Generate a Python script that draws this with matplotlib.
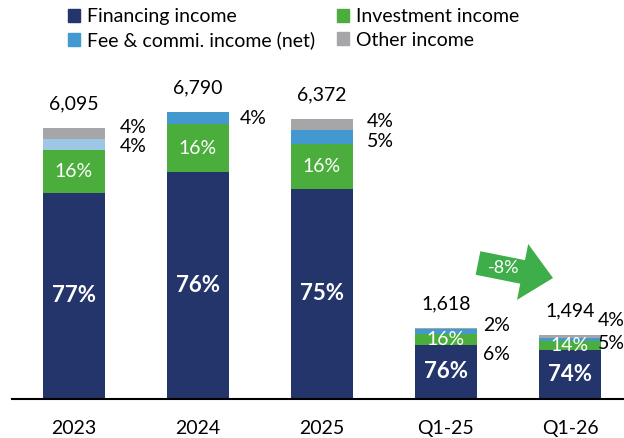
"""Revenue mix stacked bars: annual and Q1 totals with segment shares."""

import matplotlib.pyplot as plt
from matplotlib.patches import FancyArrow, Patch

plt.rcParams["font.family"] = ["Lato", "DejaVu Sans"]

# data
CATEGORIES = ["2023", "2024", "2025", "Q1-25", "Q1-26"]
TOTALS = [6095, 6790, 6372, 1618, 1494]
FINANCING_PCT = [77, 76, 75, 76, 74]
INVESTMENT_PCT = [16, 16, 16, 16, 14]
FEE_PCT = [4, 4, 5, 6, 5]
OTHER_PCT = [4, 0, 4, 2, 4]
CHANGE_LABEL = "-8%"

SERIES_NAMES = ["Financing income", "Investment income", "Fee & commi. income (net)", "Other income"]

NAVY = "#24356B"
GREEN = "#4BAE3C"
BLUE = "#4398CF"
LIGHT_BLUE = "#9DC8E5"
GREY = "#A6A6A9"
ARROW_GREEN = "#3DAE49"

# 2023 fee segment is drawn in a paler blue in the source deck
FEE_COLORS = [LIGHT_BLUE, BLUE, BLUE, BLUE, BLUE]

# hand placement of the outside labels (pixels): x gap from bar edge, y from bar top
SIDE_DX = [15, 11, 14, 6, -3]
UPPER_DY = [-1, 6, 3, -2, -15]
LOWER_DY = [18, 0, 23, 27, 8]

BAR_WIDTH = 0.5
PX_PER_UNIT = 0.044
FS = 14

fig = plt.figure(figsize=(6.24, 4.38), dpi=100)
ax = fig.add_axes([12 / 624, 39 / 438, 612 / 624, 359 / 438])

x = list(range(len(CATEGORIES)))
fin = [t * p / 100 for t, p in zip(TOTALS, FINANCING_PCT)]
inv = [t * p / 100 for t, p in zip(TOTALS, INVESTMENT_PCT)]
fee = [t * p / 100 for t, p in zip(TOTALS, FEE_PCT)]
oth = [t * p / 100 for t, p in zip(TOTALS, OTHER_PCT)]

b1 = list(fin)
b2 = [a + b for a, b in zip(b1, inv)]
b3 = [a + b for a, b in zip(b2, fee)]
tops = [a + b for a, b in zip(b3, oth)]

ax.bar(x, fin, BAR_WIDTH, color=NAVY)
ax.bar(x, inv, BAR_WIDTH, bottom=b1, color=GREEN)
ax.bar(x, fee, BAR_WIDTH, bottom=b2, color=FEE_COLORS)
ax.bar(x, oth, BAR_WIDTH, bottom=b3, color=GREY)

for i in x:
    ax.text(i, fin[i] / 2, f"{FINANCING_PCT[i]}%", ha="center", va="center",
            color="white", fontsize=16, fontweight="bold")
    ax.text(i, b1[i] + inv[i] / 2, f"{INVESTMENT_PCT[i]}%", ha="center", va="center",
            color="white", fontsize=FS)
    ax.annotate(f"{TOTALS[i]:,}", (i, tops[i]), xytext=(0, 24), textcoords="offset pixels",
                ha="center", va="center", fontsize=FS)

    edge = i + BAR_WIDTH / 2
    if OTHER_PCT[i]:
        ax.annotate(f"{OTHER_PCT[i]}%", (edge, tops[i]), xytext=(SIDE_DX[i], -UPPER_DY[i]),
                    textcoords="offset pixels", ha="left", va="center", fontsize=FS)
        ax.annotate(f"{FEE_PCT[i]}%", (edge, tops[i]), xytext=(SIDE_DX[i], -LOWER_DY[i]),
                    textcoords="offset pixels", ha="left", va="center", fontsize=FS)
    else:
        ax.annotate(f"{FEE_PCT[i]}%", (edge, tops[i]), xytext=(SIDE_DX[i], -UPPER_DY[i]),
                    textcoords="offset pixels", ha="left", va="center", fontsize=FS)

ax.set_xlim(-0.5, 550 / 124)
ax.set_ylim(0, 359 / PX_PER_UNIT)
ax.set_xticks(x)
ax.set_xticklabels(CATEGORIES, fontsize=FS)
ax.tick_params(axis="x", length=0, pad=15)
ax.set_yticks([])
for side in ("top", "right", "left"):
    ax.spines[side].set_visible(False)
ax.spines["bottom"].set_linewidth(1.5)

# block arrow between the two quarters (inches from lower-left corner)
arrow = FancyArrow(4.78, 1.75, 0.75, -0.15, width=0.24, head_width=0.57, head_length=0.31,
                   length_includes_head=True, color=ARROW_GREEN, linewidth=0,
                   transform=fig.dpi_scale_trans)
fig.patches.append(arrow)
fig.text(5.04 / 6.24, 1.70 / 4.38, CHANGE_LABEL, ha="center", va="center",
         color="white", fontsize=13)

handles = [
    Patch(color=NAVY, label=SERIES_NAMES[0]),
    Patch(color=BLUE, label=SERIES_NAMES[2]),
    Patch(color=GREEN, label=SERIES_NAMES[1]),
    Patch(color=GREY, label=SERIES_NAMES[3]),
]
fig.legend(handles=handles, ncol=2, loc="upper left", bbox_to_anchor=(54 / 624, 1.013),
           frameon=False, fontsize=FS, handlelength=0.65, handleheight=0.65,
           handletextpad=0.35, columnspacing=1.1, labelspacing=0.35, borderpad=0.2)

fig.savefig("out.png", dpi=100)
